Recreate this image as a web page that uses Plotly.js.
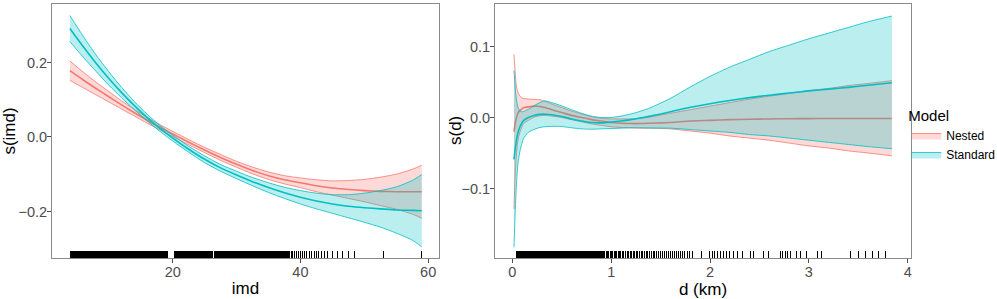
<!DOCTYPE html>
<html>
<head>
<meta charset="utf-8">
<script src="https://cdn.plot.ly/plotly-3.0.1.min.js"></script>
<style>html,body{margin:0;padding:0;background:#fff;}#chart{width:997px;height:299px;}</style>
</head>
<body>
<div id="chart"></div>
<script>
// ---------- left panel: s(imd) ----------
const imdX = [3.9, 6, 8, 10, 12, 14, 16, 18, 20, 22.5, 25, 27.5, 30, 32.5, 35, 37.5, 40, 42.5, 45, 47.5, 50, 52.5, 55, 57.5, 59];
const nestedImdFit = [0.178, 0.153, 0.130, 0.108, 0.086, 0.065, 0.045, 0.026, 0.008, -0.014, -0.035, -0.055, -0.0735, -0.090, -0.104, -0.115, -0.123, -0.131, -0.137, -0.141, -0.144, -0.146, -0.147, -0.147, -0.147];
const nestedImdHi = [0.204, 0.174, 0.147, 0.122, 0.097, 0.074, 0.053, 0.033, 0.015, -0.007, -0.028, -0.047, -0.0655, -0.081, -0.094, -0.104, -0.110, -0.115, -0.118, -0.117, -0.114, -0.108, -0.100, -0.087, -0.076];
const nestedImdLo = [0.152, 0.132, 0.113, 0.094, 0.075, 0.056, 0.037, 0.019, 0.001, -0.021, -0.042, -0.063, -0.0815, -0.099, -0.114, -0.126, -0.136, -0.147, -0.156, -0.165, -0.174, -0.184, -0.194, -0.207, -0.218];
const standardImdFit = [0.291, 0.242, 0.198, 0.157, 0.119, 0.084, 0.052, 0.023, -0.003, -0.033, -0.060, -0.083, -0.102, -0.120, -0.136, -0.150, -0.162, -0.172, -0.180, -0.186, -0.190, -0.193, -0.196, -0.197, -0.198];
const standardImdHi = [0.326, 0.270, 0.220, 0.175, 0.133, 0.095, 0.061, 0.031, 0.005, -0.025, -0.051, -0.074, -0.092, -0.109, -0.123, -0.135, -0.144, -0.151, -0.155, -0.155, -0.151, -0.144, -0.134, -0.117, -0.101];
const standardImdLo = [0.256, 0.214, 0.176, 0.139, 0.105, 0.073, 0.043, 0.015, -0.011, -0.041, -0.069, -0.092, -0.112, -0.131, -0.149, -0.165, -0.180, -0.193, -0.205, -0.217, -0.229, -0.242, -0.258, -0.277, -0.295];
const imdRug = [
  4.0,4.1,4.2,4.3,4.4,4.5,4.6,4.7,4.8,4.9, 5.0,5.1,5.2,5.3,5.4,5.5,5.6,5.7,5.8,5.9, 6.0,6.1,6.2,6.3,6.4,6.5,6.6,6.7,6.8,6.9,
  7.0,7.1,7.2,7.3,7.5,7.6,7.7,7.8,7.9, 8.0,8.1,8.2,8.3,8.4,8.5,8.6,8.7,8.8,8.9, 9.0,9.1,9.2,9.3,9.4,9.5,9.6,9.7,9.8,9.9,
  10.0,10.1,10.2,10.3,10.4,10.5,10.6,10.7,10.8,10.9, 11.0,11.1,11.2,11.3,11.4,11.5,11.6,11.7,11.8, 12.0,12.1,12.2,12.3,12.4,12.5,12.6,12.7,12.8,12.9,
  13.0,13.1,13.2,13.3,13.4,13.5,13.6,13.7,13.8,13.9, 14.0,14.1,14.2,14.3,14.4,14.5,14.6,14.7,14.8,14.9, 15.0,15.1,15.2,15.3,15.4,15.6,15.7,15.8,15.9,
  16.0,16.1,16.2,16.3,16.4,16.5,16.6,16.7,16.8,16.9, 17.0,17.1,17.2,17.3,17.4,17.5,17.6,17.7,17.8,17.9, 18.0,18.1,18.2,18.3,18.4,18.5,18.6,18.7,18.8,18.9,
  19.0,19.1,19.2, 20.3,20.4,20.5,20.6,20.7,20.8,20.9, 21.0,21.1,21.2,21.3,21.4,21.5,21.6,21.7,21.8,21.9, 22.0,22.1,22.2,22.3,22.4,22.6,22.7,22.8,22.9,
  23.0,23.1,23.2,23.3,23.4,23.5,23.6,23.7,23.8,23.9, 24.0,24.1,24.2,24.3,24.4,24.5,24.6,24.7,24.8,24.9, 25.0,25.1,25.2,25.3,25.4,25.5,25.6,25.7,25.8,25.9,
  26.0,26.1,26.2,26.3,26.5,26.6,26.7,26.8,26.9, 27.0,27.1,27.2,27.3,27.4,27.5,27.6,27.7,27.8,27.9, 28.0,28.1,28.2,28.3,28.4,28.5,28.6,28.7,28.8,28.9,
  29.0,29.1,29.2,29.3,29.4,29.5,29.6,29.8,29.9, 30.0,30.1,30.2,30.3,30.4,30.5,30.6,30.7,30.8,30.9, 31.0,31.1,31.2,31.3,31.4,31.5,31.6,31.7,31.8,
  32.0,32.1,32.2,32.3,32.4,32.5,32.6,32.7,32.8,32.9, 33.0,33.1,33.2,33.3,33.4,33.6,33.7,33.8,33.9, 34.0,34.1,34.2,34.3,34.4,34.5,34.6,34.7,34.8,34.9,
  35.0,35.1,35.2,35.3,35.5,35.6,35.7,35.8,35.9, 36.0,36.1,36.2,36.3,36.4,36.5,36.7,36.8,36.9, 37.0,37.1,37.2,37.3,37.4,37.5,37.7,37.8,37.9,
  38.1,38.2,38.3,38.6,38.7,38.8,
  39.1,39.4,39.7,40.0,40.3,40.7,41.0,41.4,41.8,42.2,42.5,42.9,43.3,43.7,44.3,45.0,45.8,46.6,47.5,48.4,53.0,58.9];
const imdTicks = [20, 40, 60];

// ---------- right panel: s(d) ----------
const dX = [0.017, 0.027, 0.034, 0.044, 0.054, 0.061, 0.078, 0.095, 0.111, 0.162, 0.229, 0.28, 0.33, 0.4, 0.5, 0.6, 0.7, 0.8, 0.9, 1.0, 1.1, 1.2, 1.3, 1.4, 1.6, 1.8, 2.0, 2.2, 2.4, 2.6, 2.8, 3.0, 3.2, 3.4, 3.6, 3.84];
const nestedDFit = [-0.020, -0.010, -0.005, 0.001, 0.005, 0.007, 0.010, 0.012, 0.0136, 0.015, 0.016, 0.0155, 0.014, 0.011, 0.007, 0.003, 0.0, -0.003, -0.005, -0.007, -0.008, -0.0085, -0.0085, -0.008, -0.007, -0.005, -0.004, -0.003, -0.0025, -0.002, -0.0017, -0.0015, -0.0014, -0.0014, -0.0014, -0.0014];
const nestedDHi = [0.089, 0.068, 0.054, 0.042, 0.037, 0.034, 0.030, 0.028, 0.027, 0.026, 0.0255, 0.025, 0.023, 0.019, 0.014, 0.009, 0.005, 0.001, -0.001, -0.002, -0.002, -0.002, -0.001, 0.001, 0.006, 0.011, 0.016, 0.021, 0.026, 0.030, 0.034, 0.038, 0.041, 0.045, 0.048, 0.052];
const nestedDLo = [-0.129, -0.089, -0.070, -0.049, -0.035, -0.029, -0.020, -0.014, -0.009, -0.004, 0.001, 0.0025, 0.003, 0.002, 0.0, -0.003, -0.006, -0.009, -0.011, -0.013, -0.014, -0.0145, -0.015, -0.015, -0.016, -0.019, -0.022, -0.026, -0.029, -0.032, -0.036, -0.040, -0.043, -0.047, -0.050, -0.054];
const standardDFit = [-0.059, -0.047, -0.040, -0.0305, -0.0235, -0.0197, -0.013, -0.0084, -0.0047, 0.0, 0.0033, 0.0045, 0.0047, 0.004, 0.0014, -0.002, -0.005, -0.007, -0.0075, -0.0065, -0.005, -0.003, -0.0005, 0.002, 0.008, 0.0145, 0.0195, 0.024, 0.028, 0.0315, 0.0345, 0.0375, 0.040, 0.0425, 0.0455, 0.049];
const standardDHi = [0.066, 0.047, 0.035, 0.023, 0.016, 0.013, 0.0094, 0.008, 0.0084, 0.0117, 0.0174, 0.021, 0.0234, 0.021, 0.0164, 0.011, 0.006, 0.002, 0.0, 0.0, 0.002, 0.005, 0.009, 0.014, 0.027, 0.043, 0.058, 0.071, 0.082, 0.093, 0.102, 0.111, 0.119, 0.127, 0.135, 0.143];
const standardDLo = [-0.183, -0.141, -0.117, -0.089, -0.070, -0.061, -0.047, -0.038, -0.0305, -0.021, -0.0164, -0.014, -0.013, -0.0125, -0.0127, -0.0145, -0.016, -0.0165, -0.016, -0.0155, -0.015, -0.0145, -0.0145, -0.0148, -0.015, -0.017, -0.019, -0.021, -0.024, -0.026, -0.029, -0.032, -0.035, -0.038, -0.041, -0.044];
const dRug = [
  0.04,0.05,0.06,0.07,0.08,0.09,0.10,0.11,0.12,0.13,0.14,0.15,0.16,0.17,0.18,0.19,0.20,0.21,0.22,0.23,0.24,0.25,0.26,0.27,0.28,0.29,
  0.30,0.31,0.32,0.33,0.34,0.35,0.36,0.37,0.38,0.39,0.40,0.41,0.42,0.43,0.44,0.45,0.46,0.47,0.48,0.49,0.50,0.51,0.52,0.53,0.54,0.55,
  0.56,0.57,0.58,0.59,0.60,0.61,0.62,0.63,0.64,0.65,0.66,0.67,0.68,0.69,0.70,0.71,0.72,0.73,0.74,0.75,0.76,0.77,0.78,0.79,0.80,0.81,
  0.82,0.83,0.84,0.85,0.86,0.87,0.88,0.89,0.90,
  0.91,0.92,0.93,0.95,0.96,0.97,0.99,1.00,1.01,1.03,1.04,1.05,1.07,1.08,1.09,1.11,1.12,1.14,1.15,1.17,1.18,1.20,1.21,1.23,1.24,1.26,
  1.27,1.29,1.31,1.32,1.34,1.36,1.37,1.39,1.41,1.43,1.44,1.46,1.48,1.50,1.52,1.54,1.56,1.58,1.60,1.62,1.64,1.66,1.68,1.70,1.72,1.74,
  1.77,1.79,1.82,1.91,1.99,2.02,2.05,2.08,2.11,2.14,2.17,2.20,2.24,2.28,2.33,2.41,2.44,2.54,2.59,2.71,2.73,2.76,2.78,2.81,2.87,2.92,
  2.98,3.09,3.13,3.42,3.50,3.57,3.64,3.70,3.77];
const dTicks = [0, 1, 2, 3, 4];

const lineColors = {Nested: '#F8766D', Standard: '#00BFC4'};
const fillColors = {Nested: 'rgba(248,118,109,0.27)', Standard: 'rgba(0,191,196,0.27)'};

const FONT = 'Liberation Sans, Arial, Helvetica, sans-serif';

function bandTraces(model, x, lo, hi, fit, xa, ya, showLeg) {
  return [
    {x: x, y: lo, type: 'scatter', mode: 'lines', xaxis: xa, yaxis: ya,
     line: {color: lineColors[model], width: 0.8, shape: 'spline', smoothing: 0.7},
     showlegend: false, hoverinfo: 'skip'},
    {x: x, y: hi, type: 'scatter', mode: 'lines', xaxis: xa, yaxis: ya, fill: 'tonexty',
     fillcolor: fillColors[model], name: model,
     line: {color: lineColors[model], width: 0.8, shape: 'spline', smoothing: 0.7},
     showlegend: showLeg, hoverinfo: 'skip'},
    {x: x, y: fit, type: 'scatter', mode: 'lines', xaxis: xa, yaxis: ya,
     line: {color: lineColors[model], width: 1.6, shape: 'spline', smoothing: 0.7},
     showlegend: false, hoverinfo: 'skip'}
  ];
}

const traces = [].concat(
  bandTraces('Nested', imdX, nestedImdLo, nestedImdHi, nestedImdFit, 'x', 'y', true),
  bandTraces('Standard', imdX, standardImdLo, standardImdHi, standardImdFit, 'x', 'y', true),
  bandTraces('Nested', dX, nestedDLo, nestedDHi, nestedDFit, 'x2', 'y2', false),
  bandTraces('Standard', dX, standardDLo, standardDHi, standardDFit, 'x2', 'y2', false)
);

const axisCommon = {
  showgrid: false, zeroline: false,
  showline: true, linecolor: '#8a8a8a', linewidth: 1, mirror: true,
  ticks: 'outside', ticklen: 4, tickwidth: 1, tickcolor: '#4d4d4d',
  ticklabelstandoff: -3,
  tickfont: {family: FONT, size: 14.5, color: '#4d4d4d'}
};

function rugMinor(vals) {
  return {tickmode: 'array', tickvals: vals, ticks: 'inside', ticklen: 7, tickwidth: 1, tickcolor: '#000000', showgrid: false};
}

const layout = {
  width: 997, height: 299,
  margin: {l: 0, r: 0, t: 4, b: 41, autoexpand: false},
  paper_bgcolor: '#ffffff', plot_bgcolor: '#ffffff',
  font: {family: FONT},
  showlegend: true,
  xaxis: Object.assign({}, axisCommon, {
    domain: [52/997, 439/997], range: [1.1, 61.7], anchor: 'y',
    tickmode: 'array', tickvals: imdTicks,
    minor: rugMinor(imdRug),
    automargin: true,
    title: {text: 'imd', font: {family: FONT, size: 17, color: '#000'}, standoff: 2}
  }),
  yaxis: Object.assign({}, axisCommon, {
    domain: [0, 1], range: [-0.325, 0.357], anchor: 'x',
    tickmode: 'array', tickvals: [-0.2, 0, 0.2], tickformat: '.1f',
    title: {text: 's(imd)', font: {family: FONT, size: 17, color: '#000'}}
  }),
  xaxis2: Object.assign({}, axisCommon, {
    domain: [495/997, 911/997], range: [-0.175, 4.033], anchor: 'y2',
    tickmode: 'array', tickvals: dTicks,
    minor: rugMinor(dRug),
    automargin: true,
    title: {text: 'd (km)', font: {family: FONT, size: 17, color: '#000'}, standoff: 2}
  }),
  yaxis2: Object.assign({}, axisCommon, {
    domain: [0, 1], range: [-0.198, 0.16], anchor: 'x2',
    tickmode: 'array', tickvals: [-0.1, 0, 0.1], tickformat: '.1f'
  }),
  annotations: [
    {text: 's(d)', xref: 'paper', yref: 'paper', x: 455/997, y: 0.5, xanchor: 'center', yanchor: 'middle',
     textangle: -90, showarrow: false, font: {family: FONT, size: 17, color: '#000'}}
  ],
  legend: {
    x: 0.909, y: 0.616, xanchor: 'left', yanchor: 'top', traceorder: 'normal',
    bgcolor: 'rgba(0,0,0,0)', borderwidth: 0,
    font: {family: FONT, size: 12, color: '#000'},
    title: {text: 'Model', font: {family: FONT, size: 15, color: '#000'}},
    itemwidth: 30, tracegroupgap: 0
  }
};

Plotly.newPlot('chart', traces, layout, {staticPlot: true, displayModeBar: false});
</script>
</body>
</html>
